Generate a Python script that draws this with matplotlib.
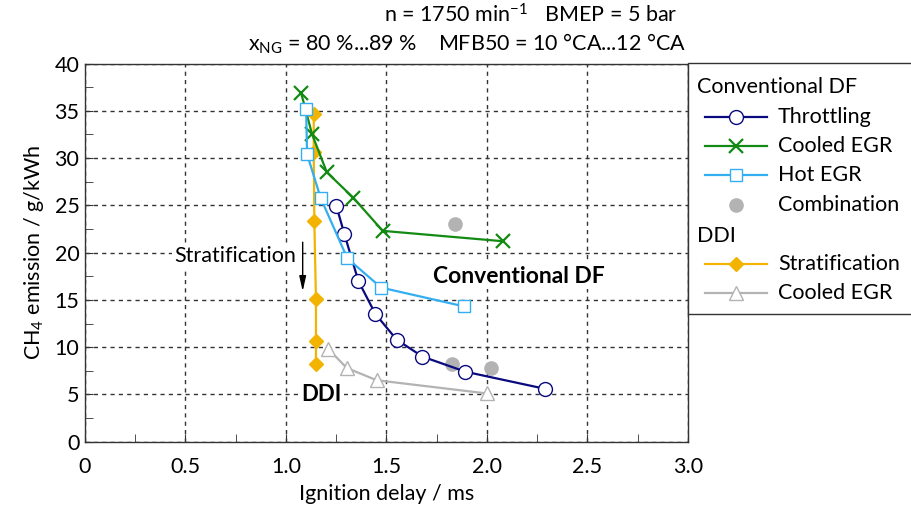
import matplotlib
matplotlib.use("Agg")
import matplotlib.pyplot as plt
from matplotlib.lines import Line2D
from matplotlib.patches import Rectangle
from matplotlib.ticker import MultipleLocator

plt.rcParams['font.family'] = ['Lato', 'DejaVu Sans']
plt.rcParams['mathtext.fontset'] = 'custom'
plt.rcParams['mathtext.rm'] = 'Lato'
plt.rcParams['mathtext.it'] = 'Lato:italic'
plt.rcParams['mathtext.bf'] = 'Lato:bold'

# ---------------- data ----------------
thr_x = [1.251, 1.290, 1.360, 1.445, 1.550, 1.679, 1.893, 2.287]
thr_y = [24.9, 22.0, 17.0, 13.5, 10.8, 9.0, 7.4, 5.6]

cegr_x = [1.075, 1.130, 1.203, 1.335, 1.481, 2.080]
cegr_y = [36.9, 32.5, 28.5, 25.8, 22.3, 21.2]

hegr_x = [1.100, 1.105, 1.172, 1.305, 1.473, 1.888]
hegr_y = [35.2, 30.4, 25.8, 19.4, 16.3, 14.3]

comb_x = [1.839, 1.827, 2.021]
comb_y = [23.0, 8.2, 7.8]

strat_x = [1.138, 1.138, 1.141, 1.149, 1.149, 1.149]
strat_y = [34.7, 30.6, 23.3, 15.1, 10.6, 8.2]

ddiegr_x = [1.211, 1.302, 1.451, 2.000]
ddiegr_y = [9.8, 7.8, 6.5, 5.1]

legend_labels = ["Throttling", "Cooled EGR", "Hot EGR", "Combination",
                 "Stratification", "Cooled EGR"]
legend_headers = ["Conventional DF", "DDI"]

# colours
c_thr = '#0a0a80'
c_cegr = '#138a13'
c_hegr = '#33aef0'
c_comb = '#b3b3b3'
c_strat = '#f2b400'
c_ddiegr = '#b3b3b3'

W, H = 912, 516
fig = plt.figure(figsize=(W / 100, H / 100), dpi=100)
ax = fig.add_axes([85 / W, 1 - 441.7 / H, 603 / W, (441.7 - 63.5) / H])

fs = 15.5

# series
ax.plot(strat_x, strat_y, color=c_strat, lw=1.6, marker='D', ms=7.5,
        mfc=c_strat, mec=c_strat, zorder=3)
ax.plot(ddiegr_x, ddiegr_y, color=c_ddiegr, lw=1.6, marker='^', ms=9.5,
        mfc='white', mec=c_ddiegr, mew=1.0, zorder=3)
ax.plot(comb_x, comb_y, ls='none', marker='o', ms=9.5, mfc=c_comb,
        mec=c_comb, zorder=3)
ax.plot(thr_x, thr_y, color=c_thr, lw=1.6, marker='o', ms=10,
        mfc='white', mec=c_thr, mew=1.0, zorder=4)
ax.plot(cegr_x, cegr_y, color=c_cegr, lw=1.6, marker='x', ms=10,
        mec=c_cegr, mew=1.6, zorder=4)
ax.plot(hegr_x, hegr_y, color=c_hegr, lw=1.6, marker='s', ms=9,
        mfc='white', mec=c_hegr, mew=1.0, zorder=5)

# axes formatting
ax.set_xlim(0, 3.0)
ax.set_ylim(0, 40)
ax.xaxis.set_major_locator(MultipleLocator(0.5))
ax.xaxis.set_minor_locator(MultipleLocator(0.25))
ax.yaxis.set_major_locator(MultipleLocator(5))
ax.yaxis.set_minor_locator(MultipleLocator(2.5))
ax.xaxis.set_major_formatter(plt.FuncFormatter(lambda v, p: '0' if v == 0 else f'{v:.1f}'))
ax.tick_params(which='both', direction='in', top=False, right=False,
               labelsize=fs, color='#333333')
ax.tick_params(which='major', length=6)
ax.tick_params(which='minor', length=6)
ax.tick_params(axis='x', which='major', pad=11)
ax.tick_params(axis='y', which='major', pad=4)
ax.grid(True, which='major', ls=(0, (3, 3)), color='#333333', lw=1.0)
ax.set_axisbelow(True)
for s in ax.spines.values():
    s.set_color('#333333')
    s.set_linewidth(1.0)

ax.set_xlabel('Ignition delay / ms', fontsize=fs, labelpad=5)
ax.set_ylabel('CH$_4$ emission / g/kWh', fontsize=fs, labelpad=6)

# annotations
bbox_w = dict(boxstyle='square,pad=0.1', fc='white', ec='none')
ax.text(1.05, 19.6, 'Stratification', fontsize=fs, ha='right', va='center',
        bbox=bbox_w, zorder=2)
ax.annotate('', xy=(1.083, 15.9), xytext=(1.083, 21.1),
            arrowprops=dict(arrowstyle='-|>,head_length=0.9,head_width=0.2',
                            color='black', lw=1.0, shrinkA=0, shrinkB=0))
ax.text(1.73, 17.5, 'Conventional DF', fontsize=16.5, fontweight='bold',
        ha='left', va='center', bbox=bbox_w, zorder=2)
ax.text(1.175, 5.0, 'DDI', fontsize=16, fontweight='bold',
        ha='center', va='center', bbox=bbox_w, zorder=2)

# header text
fig.text(677 / W, 1 - 15 / H, 'n = 1750 min$^{-1}$   BMEP = 5 bar',
         fontsize=fs, ha='right', va='center')
fig.text(686 / W, 1 - 44 / H,
         'x$_{\\mathrm{NG}}$ = 80 %...89 %    MFB50 = 10 °CA...12 °CA',
         fontsize=fs, ha='right', va='center')

# legend panel
fig.patches.append(Rectangle((688 / W, 1 - 314 / H), 240 / W, 251 / H,
                             transform=fig.transFigure, fc='white',
                             ec='#333333', lw=1.0))
handles = [
    dict(color=c_thr, marker='o', ms=10, mfc='white', mec=c_thr, mew=1.0),
    dict(color=c_cegr, marker='x', ms=10, mfc=c_cegr, mec=c_cegr, mew=1.6),
    dict(color=c_hegr, marker='s', ms=9, mfc='white', mec=c_hegr, mew=1.0),
    dict(color=c_comb, marker='o', ms=9.5, mfc=c_comb, mec=c_comb, ls='none'),
    dict(color=c_strat, marker='D', ms=7.5, mfc=c_strat, mec=c_strat),
    dict(color=c_ddiegr, marker='^', ms=9.5, mfc='white', mec=c_ddiegr, mew=1.0),
]
rows = [117, 146, 175, 205, 264, 293]
fig.text(697 / W, 1 - 87 / H, legend_headers[0], fontsize=fs, ha='left', va='center')
fig.text(697 / W, 1 - 236 / H, legend_headers[1], fontsize=fs, ha='left', va='center')
for lab, hd, r in zip(legend_labels, handles, rows):
    yy = 1 - r / H
    if hd.get('ls', '-') != 'none':
        fig.lines.append(Line2D([705 / W, 767 / W], [yy, yy],
                                transform=fig.transFigure,
                                color=hd['color'], lw=1.6))
    fig.lines.append(Line2D([736 / W], [yy], transform=fig.transFigure,
                            ls='none', marker=hd['marker'], ms=hd['ms'],
                            mfc=hd['mfc'], mec=hd['mec'],
                            mew=hd.get('mew', 1.0)))
    fig.text(778 / W, yy, lab, fontsize=fs, ha='left', va='center')

fig.savefig('out.png', dpi=100)
